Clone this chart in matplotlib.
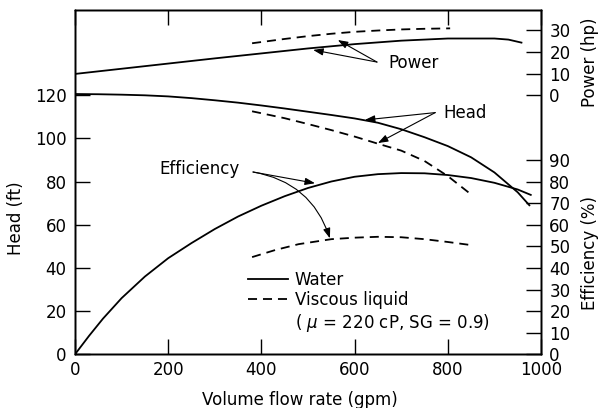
import matplotlib.pyplot as plt
from matplotlib.lines import Line2D

# pump curves: water vs viscous liquid
flow_water = [0, 50, 100, 150, 200, 250, 300, 350, 400, 450, 500, 550,
              600, 650, 700, 750, 800, 850, 900, 950, 975]
head_water = [120.5, 120.4, 120.2, 119.9, 119.4, 118.6, 117.6, 116.5, 115.2,
              113.8, 112.3, 110.8, 109.2, 107.2, 104.2, 100.5, 96.4, 91.2,
              84.2, 75.0, 69.0]

flow_eff_water = [0, 30, 60, 100, 150, 200, 250, 300, 350, 400, 450, 500,
                  550, 600, 650, 700, 750, 800, 850, 900, 950, 978]
eff_water = [0, 8.5, 16.5, 26, 36, 44.5, 51.5, 58, 63.8, 68.8, 73.2, 77,
             80, 82.2, 83.4, 83.9, 83.8, 83.0, 81.6, 79.4, 76.3, 73.8]

flow_pow_water = [0, 100, 200, 300, 400, 500, 600, 700, 800, 900, 930, 958]
pow_water = [9.8, 12.2, 14.6, 17.0, 19.3, 21.6, 23.6, 25.2, 26.2, 26.2, 25.7, 24.3]

flow_head_visc = [380, 400, 450, 500, 550, 600, 650, 700, 750, 800, 850]
head_visc = [112.5, 111.6, 109.3, 106.6, 103.8, 100.8, 97.5, 94.3, 89.5, 82.5, 74.0]

flow_pow_visc = [380, 450, 500, 550, 600, 650, 700, 750, 805]
pow_visc = [24.0, 26.0, 27.3, 28.4, 29.3, 29.9, 30.4, 30.7, 30.9]

flow_eff_visc = [380, 430, 480, 550, 600, 650, 700, 750, 800, 852]
eff_visc = [45, 48.3, 51, 53.3, 54, 54.4, 54.2, 53.3, 52, 50.5]

head_ticks = [0, 20, 40, 60, 80, 100, 120]
power_ticks = [0, 10, 20, 30]
eff_ticks = [0, 10, 20, 30, 40, 50, 60, 70, 80, 90]
flow_ticks = [0, 200, 400, 600, 800, 1000]

plt.rcParams['font.family'] = 'DejaVu Sans'
plt.rcParams['font.size'] = 12

fig = plt.figure(figsize=(5.99, 4.08), dpi=100)
ax = fig.add_axes([0.1252, 0.1316, 0.778, 0.8439])
ax_e = ax.twinx()
ax_p = ax.twinx()

ymax = 159.4
ax.set_xlim(0, 1000)
ax.set_ylim(0, ymax)
ax_e.set_ylim(0, ymax)
ax_p.set_ylim(-120, ymax - 120)   # hp zero sits level with 120 ft

lw = 1.3
dash = (0, (5, 3.3))
ax.plot(flow_water, head_water, 'k-', lw=lw)
ax.plot(flow_head_visc, head_visc, color='k', ls=dash, lw=lw)
ax_e.plot(flow_eff_water, eff_water, 'k-', lw=lw)
ax_e.plot(flow_eff_visc, eff_visc, color='k', ls=dash, lw=lw)
ax_p.plot(flow_pow_water, pow_water, 'k-', lw=lw)
ax_p.plot(flow_pow_visc, pow_visc, color='k', ls=dash, lw=lw)

tick_kw = dict(direction='in', length=11, width=1.0, pad=6)
ax.set_xticks(flow_ticks)
ax.set_yticks(head_ticks)
ax.tick_params(axis='both', top=True, **tick_kw)
ax.tick_params(axis='x', pad=5)
ax_e.set_yticks(eff_ticks)
ax_e.tick_params(axis='y', **tick_kw)
ax_p.set_yticks(power_ticks)
ax_p.tick_params(axis='y', **tick_kw)
for a in (ax, ax_e, ax_p):
    for s in a.spines.values():
        s.set_linewidth(1.0)

ax.set_xlabel('Volume flow rate (gpm)')
ax.xaxis.set_label_coords(0.483, -0.108)
ax.set_ylabel('Head (ft)')
ax.yaxis.set_label_coords(-0.107, 0.396)
ax_p.set_ylabel('Power (hp)')
ax_p.yaxis.set_label_coords(1.086, 0.849)
ax_e.set_ylabel('Efficiency (%)')
ax_e.yaxis.set_label_coords(1.086, 0.294)

arrow = dict(arrowstyle='-|>,head_length=0.5,head_width=0.18', lw=0.8,
             color='k', shrinkA=0, shrinkB=0)

ax.text(672, 135.0, 'Power', va='center', ha='left')
ax.annotate('', xy=(511, 140.9), xytext=(648, 135.3), arrowprops=arrow)
ax.annotate('', xy=(564, 145.5), xytext=(648, 135.3), arrowprops=arrow)

ax.text(790, 111.7, 'Head', va='center', ha='left')
ax.annotate('', xy=(622, 108.5), xytext=(773, 111.9), arrowprops=arrow)
ax.annotate('', xy=(650, 97.8), xytext=(773, 111.9), arrowprops=arrow)

ax.text(182, 85.8, 'Efficiency', va='center', ha='left')
ax.annotate('', xy=(515, 79.2), xytext=(382, 84.4), arrowprops=arrow)
ax.annotate('', xy=(547, 53.7), xytext=(382, 84.4),
            arrowprops=dict(arrow, connectionstyle='arc3,rad=-0.3'))

handles = [Line2D([], [], color='k', lw=lw),
           Line2D([], [], color='k', ls=dash, lw=lw),
           Line2D([], [], color='none')]
labels = ['Water', 'Viscous liquid', r'( $\mu$ = 220 cP, SG = 0.9)']
ax_p.legend(handles, labels, loc='upper left', bbox_to_anchor=(0.371, 0.243),
            frameon=False, handlelength=2.4, handletextpad=0.42,
            labelspacing=0.16, borderaxespad=0, borderpad=0)

fig.savefig('out.png', dpi=100)
